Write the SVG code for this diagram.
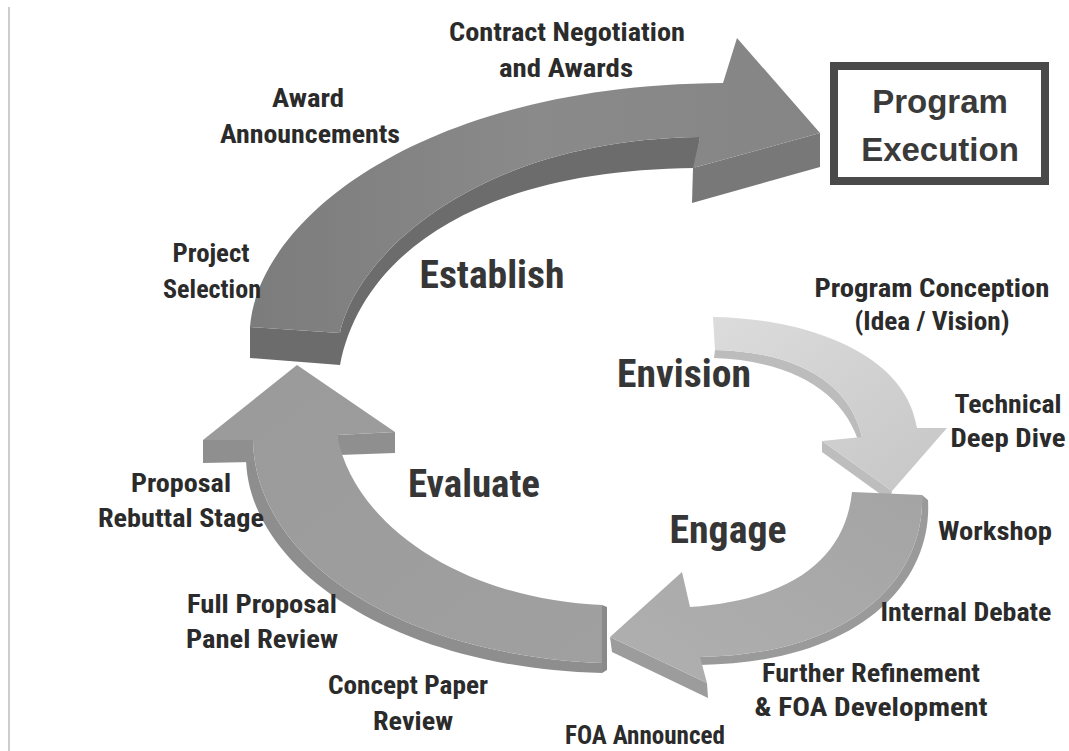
<svg xmlns="http://www.w3.org/2000/svg" width="1069" height="751" viewBox="0 0 1069 751">
<defs>
<style>
.lbl{font-family:"Liberation Sans Narrow","Roboto Condensed","Liberation Sans",Arial,sans-serif;font-weight:bold;font-size:26px;fill:#2b2b2b;text-anchor:middle}
.big{font-family:"Liberation Sans Narrow","Roboto Condensed","Liberation Sans",Arial,sans-serif;font-weight:bold;font-size:39px;fill:#363636;text-anchor:middle}
.box{font-family:"Liberation Sans",Arial,sans-serif;font-weight:bold;font-size:33px;fill:#3a3a3a;text-anchor:middle}
</style>
<linearGradient id="gEst" x1="0" y1="0" x2="1" y2="0">
<stop offset="0" stop-color="#7c7c7c"/><stop offset="0.5" stop-color="#8a8a8a"/><stop offset="1" stop-color="#858585"/>
</linearGradient>
<linearGradient id="gEnv" x1="0" y1="0" x2="1" y2="1">
<stop offset="0" stop-color="#dcdcdc"/><stop offset="1" stop-color="#c6c6c6"/>
</linearGradient>
<linearGradient id="gEng" x1="1" y1="0" x2="0" y2="1">
<stop offset="0" stop-color="#a4a4a4"/><stop offset="1" stop-color="#b0b0b0"/>
</linearGradient>
<linearGradient id="gEva" x1="0" y1="0" x2="1" y2="1">
<stop offset="0" stop-color="#9a9a9a"/><stop offset="1" stop-color="#a0a0a0"/>
</linearGradient>
</defs>
<rect width="1069" height="751" fill="#ffffff"/>
<line x1="9" y1="7" x2="9" y2="751" stroke="#bdbdbd" stroke-width="1.5"/>

<g id="connectors">
<g id="arrow-establish">
<path d="M250,327 L340,333 C355,260 470,140 700,137 L695,168 C470,170 360,260 340,365 L250,358 Z" fill="#6c6c6c"/>
<path d="M693,168 L820,133 L820,167 L692,203 Z" fill="#787878"/>
<path d="M250,327 C258,220 420,85 723,83 L737,38 L820,133 L693,168 L700,137 C470,140 355,260 340,333 Z" fill="url(#gEst)"/>
</g>
<g id="arrow-envision">
<path d="M715,350 C800,352 850,385 862,437 L860,446 C846,396 798,361 714,358 Z" fill="#bcbcbc"/>
<path d="M822,441 L892,491 L890,501 L822,452 Z" fill="#bdbdbd"/>
<path d="M713,317 C800,318 905,350 917,428 L947,428 L892,491 L822,441 L862,437 C850,385 800,352 715,350 Z" fill="url(#gEnv)"/>
</g>
<g id="arrow-engage">
<path d="M922,495 C925,580 850,655 700,657 L700,665 C856,663 933,585 928,500 Z" fill="#9a9a9a"/>
<path d="M610,637 L707,683 L708,698 L612,652 Z" fill="#9c9c9c"/>
<path d="M852,492 L922,495 C925,580 850,655 700,657 L707,683 L610,637 L682,572 L690,607 C790,600 845,560 852,492 Z" fill="url(#gEng)"/>
</g>
<g id="arrow-evaluate">
<path d="M253,440 C255,560 400,655 602,663 L602,673 C392,668 245,566 246,455 Z" fill="#8e8e8e"/>
<path d="M602,605 L607,607 L607,670 L602,673 Z" fill="#8a8a8a"/>
<path d="M203,440 L253,440 L253,462 L203,463 Z" fill="#8f8f8f"/>
<path d="M337,435 L395,432 L395,453 L339,455 Z" fill="#8f8f8f"/>
<path d="M253,440 C255,560 400,655 602,663 L602,605 C470,600 355,530 337,435 L395,432 L297,365 L203,440 Z" fill="url(#gEva)"/>
</g>
</g>

<g id="node-program-execution">
<rect x="834" y="66" width="211" height="115" fill="#ffffff" stroke="#4a4a4a" stroke-width="8"/>
<text class="box" x="940" y="113">Program</text>
<text class="box" x="940" y="161">Execution</text>
</g>

<g id="node-establish"><text class="big" x="492" y="288" textLength="145" lengthAdjust="spacingAndGlyphs">Establish</text></g>
<g id="node-envision"><text class="big" x="684" y="387" textLength="134" lengthAdjust="spacingAndGlyphs">Envision</text></g>
<g id="node-evaluate"><text class="big" x="474" y="497" textLength="132" lengthAdjust="spacingAndGlyphs">Evaluate</text></g>
<g id="node-engage"><text class="big" x="728" y="543" textLength="117" lengthAdjust="spacingAndGlyphs">Engage</text></g>

<g id="label-contract">
<text class="lbl" x="567" y="41" textLength="236" lengthAdjust="spacingAndGlyphs">Contract Negotiation</text>
<text class="lbl" x="566" y="77" textLength="134" lengthAdjust="spacingAndGlyphs">and Awards</text>
</g>
<g id="label-award">
<text class="lbl" x="308" y="107" textLength="72" lengthAdjust="spacingAndGlyphs">Award</text>
<text class="lbl" x="310" y="143" textLength="180" lengthAdjust="spacingAndGlyphs">Announcements</text>
</g>
<g id="label-project">
<text class="lbl" x="211" y="262" textLength="77" lengthAdjust="spacingAndGlyphs">Project</text>
<text class="lbl" x="212" y="298" textLength="98" lengthAdjust="spacingAndGlyphs">Selection</text>
</g>
<g id="label-conception">
<text class="lbl" x="932" y="297" textLength="235" lengthAdjust="spacingAndGlyphs">Program Conception</text>
<text class="lbl" x="932" y="330" textLength="155" lengthAdjust="spacingAndGlyphs">(Idea / Vision)</text>
</g>
<g id="label-technical">
<text class="lbl" x="1008" y="413" textLength="107" lengthAdjust="spacingAndGlyphs">Technical</text>
<text class="lbl" x="1008" y="447" textLength="115" lengthAdjust="spacingAndGlyphs">Deep Dive</text>
</g>
<g id="label-workshop"><text class="lbl" x="995" y="540" textLength="114" lengthAdjust="spacingAndGlyphs">Workshop</text></g>
<g id="label-debate"><text class="lbl" x="966" y="621" textLength="171" lengthAdjust="spacingAndGlyphs">Internal Debate</text></g>
<g id="label-refinement">
<text class="lbl" x="871" y="682" textLength="218" lengthAdjust="spacingAndGlyphs">Further Refinement</text>
<text class="lbl" x="871" y="716" textLength="233" lengthAdjust="spacingAndGlyphs">&amp; FOA Development</text>
</g>
<g id="label-foa"><text class="lbl" x="645" y="744" textLength="160" lengthAdjust="spacingAndGlyphs">FOA Announced</text></g>
<g id="label-concept">
<text class="lbl" x="408" y="694" textLength="160" lengthAdjust="spacingAndGlyphs">Concept Paper</text>
<text class="lbl" x="413" y="730" textLength="80" lengthAdjust="spacingAndGlyphs">Review</text>
</g>
<g id="label-full">
<text class="lbl" x="262" y="613" textLength="150" lengthAdjust="spacingAndGlyphs">Full Proposal</text>
<text class="lbl" x="262" y="648" textLength="152" lengthAdjust="spacingAndGlyphs">Panel Review</text>
</g>
<g id="label-rebuttal">
<text class="lbl" x="181" y="492" textLength="100" lengthAdjust="spacingAndGlyphs">Proposal</text>
<text class="lbl" x="181" y="527" textLength="166" lengthAdjust="spacingAndGlyphs">Rebuttal Stage</text>
</g>
</svg>
